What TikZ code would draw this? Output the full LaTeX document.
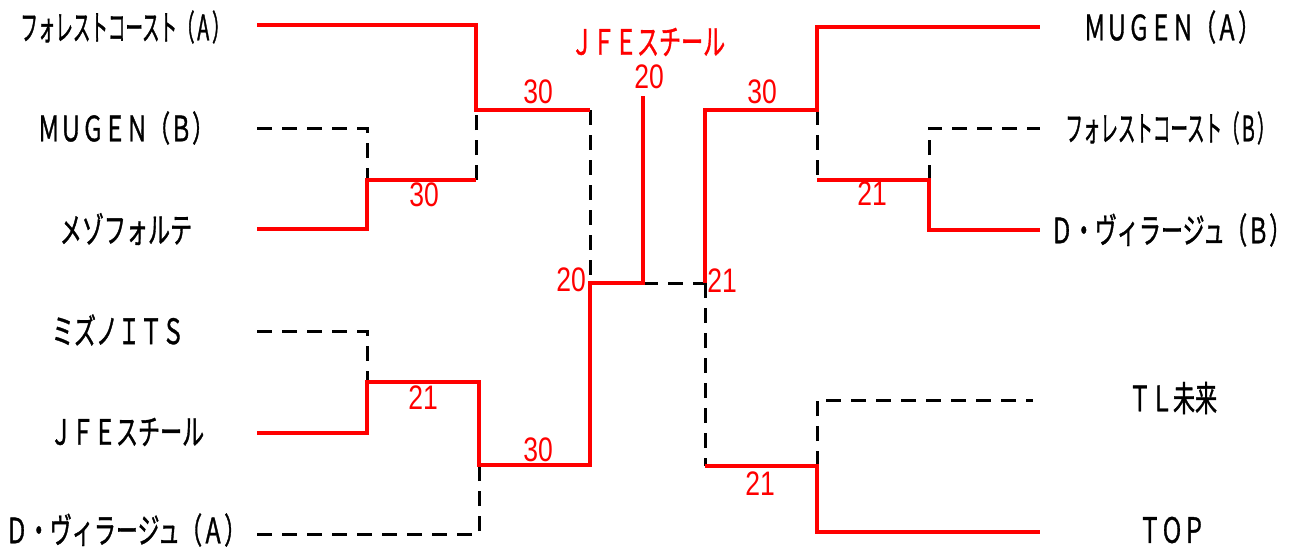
\documentclass[tikz,border=0pt]{standalone}
\usepackage{fontspec}
\newfontfamily\jpfont[FakeStretch=0.63, FakeBold=1]{Noto Sans CJK JP}
\newfontfamily\jpnarrow[FakeStretch=0.5, FakeBold=1]{Noto Sans CJK JP}
\newfontfamily\numfont[FakeStretch=0.78]{Liberation Sans}

\begin{document}
\begin{tikzpicture}[x=0.5pt, y=-0.5pt, thick,
  win/.style={draw=red, line width=1.8pt},
  lose/.style={draw=black, line width=1.5pt, dash pattern=on 7.5pt off 5pt},
  team/.style={font=\jpfont\fontsize{17.5pt}{19pt}\selectfont, inner sep=0pt},
  teamnarrow/.style={team, font=\jpnarrow\fontsize{17.5pt}{19pt}\selectfont},
  score/.style={font=\numfont\fontsize{17pt}{19pt}\selectfont, text=red, inner sep=0pt}]
  \useasboundingbox (0,0) rectangle (1290,547);
  % teams
  \node[teamnarrow] (forA) at (125,27) {フォレストコースト（Ａ）};
  \node[team] (mugenB) at (126,128) {ＭＵＧＥＮ（Ｂ）};
  \node[team] (mezzo) at (126,229) {メゾフォルテ};
  \node[team] (mizuno) at (118,330) {ミズノＩＴＳ};
  \node[team] (jfe) at (127,432) {ＪＦＥスチール};
  \node[team] (dvA) at (126,530) {Ｄ・ヴィラージュ（Ａ）};
  \node[team] (mugenA) at (1172,27) {ＭＵＧＥＮ（Ａ）};
  \node[teamnarrow] (forB) at (1170,128) {フォレストコースト（Ｂ）};
  \node[team] (dvB) at (1171,230) {Ｄ・ヴィラージュ（Ｂ）};
  \node[team] (tl) at (1173,398) {ＴＬ未来};
  \node[team] (top) at (1172,530) {ＴＯＰ};
  \node[team, text=red] (champ) at (648,42) {ＪＦＥスチール};

  % left half
  \coordinate (la1) at (257,25);
  \coordinate (la2) at (257,128);
  \coordinate (la3) at (257,229);
  \coordinate (la4) at (257,331);
  \coordinate (la5) at (257,433);
  \coordinate (la6) at (257,534);
  \coordinate (lp1) at (367,180);
  \coordinate (lp1r) at (476,180);
  \coordinate (lq1) at (476,110);
  \coordinate (ls1) at (590,110);
  \coordinate (lp2) at (367,382);
  \coordinate (lp2r) at (479,382);
  \coordinate (lq2) at (479,465);
  \coordinate (ls2) at (590,465);
  \coordinate (lf) at (590,283);
  % final
  \coordinate (cc) at (643,283);
  \coordinate (ctop) at (643,96);
  \coordinate (rf) at (705,283);
  % right half
  \coordinate (rq1) at (817,110);
  \coordinate (rp1) at (817,180);
  \coordinate (rp1r) at (929,180);
  \coordinate (rs2) at (705,466);
  \coordinate (rq2) at (817,466);
  \coordinate (ra1) at (1040,27);
  \coordinate (ra2) at (1040,128);
  \coordinate (ra3) at (1040,230);
  \coordinate (ra4) at (1033,400);
  \coordinate (ra5) at (1040,532);

  \draw[lose] (la2) -| (lp1);
  \draw[lose] (lp1r) -- (lq1);
  \draw[lose] (ls1) -- (lf);
  \draw[lose] (la4) -| (lp2);
  \draw[lose] (la6) -| (lq2);
  \draw[lose] (cc) -- (rf);
  \draw[lose] (rq1) -- (rp1);
  \draw[lose] (rp1r) |- (ra2);
  \draw[lose] (rf) -- (rs2);
  \draw[lose] (rq2) |- (ra4);

  \draw[win] (la1) -| (lq1) -- (ls1);
  \draw[win] (la3) -| (lp1) -- (lp1r);
  \draw[win] (la5) -| (lp2) -- (lp2r) |- (ls2) -- (lf) -- (cc) -- (ctop);
  \draw[win] (rf) |- (rq1) |- (ra1);
  \draw[win] (rp1) -- (rp1r) |- (ra3);
  \draw[win] (rs2) -- (rq2) |- (ra5);

  % scores
  \node[score] (s1) at (538,92) {30};
  \node[score] (s2) at (424,195) {30};
  \node[score] (s3) at (423,398) {21};
  \node[score] (s4) at (538,450) {30};
  \node[score] (s5) at (571,280) {20};
  \node[score] (s6) at (649,77) {20};
  \node[score] (s7) at (722,281) {21};
  \node[score] (s8) at (762,92) {30};
  \node[score] (s9) at (872,194) {21};
  \node[score] (s10) at (760,484) {21};
\end{tikzpicture}
\end{document}
